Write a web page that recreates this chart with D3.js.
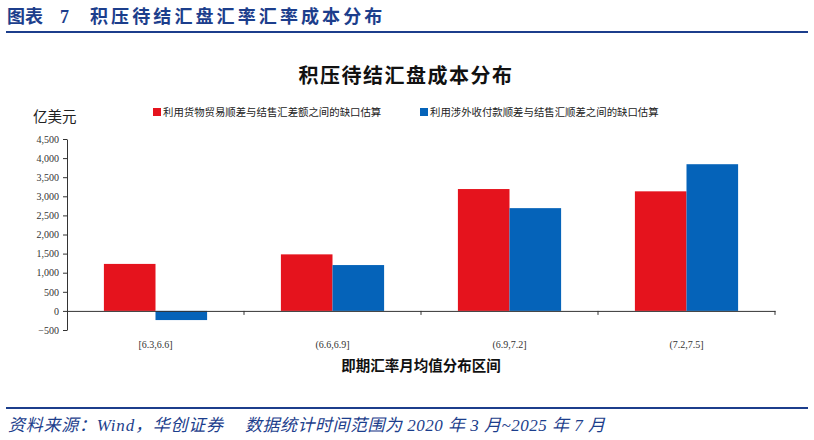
<!DOCTYPE html>
<html>
<head>
<meta charset="utf-8">
<script src="https://cdn.jsdelivr.net/npm/d3@7"></script>
<style>
  body { margin: 0; background: #fff; }
  svg { display: block; }
</style>
</head>
<body>
<script>
// 数据
const categories = ["[6.3,6.6]", "(6.6,6.9]", "(6.9,7.2]", "(7.2,7.5]"];
const tradeGap = [1230, 1480, 3190, 3130];   // 利用货物贸易顺差与结售汇差额之间的缺口估算
const flowGap = [-240, 1200, 2690, 3840];    // 利用涉外收付款顺差与结售汇顺差之间的缺口估算
const seriesNames = ["利用货物贸易顺差与结售汇差额之间的缺口估算", "利用涉外收付款顺差与结售汇顺差之间的缺口估算"];
const yTicks = [-500, 0, 500, 1000, 1500, 2000, 2500, 3000, 3500, 4000, 4500];

const colors = ["#E5131D", "#0563B9"];
const navy = "#1C3E8C";
const serif = "'Liberation Serif', 'Noto Sans CJK SC', serif";
const cjk = "'Noto Sans CJK SC', sans-serif";

var svg = d3.select("body")
    .append("svg")
    .attr("width", 814)
    .attr("height", 440)

// 页眉
const header = svg.append("text")
    .attr("y", 23)
    .attr("fill", navy)
    .style("font-family", cjk)
    .style("font-weight", "bold")
    .style("font-size", "18px")
header.append("tspan").attr("x", 7).text("图表")
header.append("tspan").attr("x", 60).style("font-family", serif).text("7")
header.append("tspan").attr("x", 90).style("letter-spacing", "3.1px").text("积压待结汇盘汇率汇率成本分布")

svg.append("line")
    .attr("x1", 6).attr("x2", 808)
    .attr("y1", 32).attr("y2", 32)
    .attr("stroke", navy)
    .attr("stroke-width", 2)

// 图表标题
svg.append("text")
    .attr("x", 406)
    .attr("y", 83)
    .attr("text-anchor", "middle")
    .style("font-family", cjk)
    .style("font-weight", "bold")
    .style("font-size", "20px")
    .style("letter-spacing", "1.5px")
    .attr("fill", "#111")
    .text("积压待结汇盘成本分布")

svg.append("text")
    .attr("x", 33)
    .attr("y", 122)
    .style("font-family", cjk)
    .style("font-size", "14.5px")
    .attr("fill", "#222")
    .text("亿美元")

// 图例
const legendX = [153, 420];
seriesNames.forEach((name, i) => {
    svg.append("rect")
        .attr("x", legendX[i]).attr("y", 108)
        .attr("width", 8).attr("height", 8)
        .attr("fill", colors[i])
    svg.append("text")
        .attr("x", legendX[i] + 10)
        .attr("y", 116)
        .style("font-family", cjk)
        .style("font-size", "10.4px")
        .attr("fill", "#222")
        .text(name)
})

// 坐标轴
const x = d3.scaleBand()
    .domain(categories)
    .range([67, 775])

const xInner = d3.scaleBand()
    .domain([0, 1])
    .range([0, x.bandwidth()])
    .paddingOuter(0.715)

const y = d3.scaleLinear()
    .domain([-500, 4500])
    .range([330, 139])

const plot = svg.append("g")

const groups = plot.selectAll(".grp")
    .data(categories)
    .enter()
    .append("g")
    .attr("transform", d => "translate(" + x(d) + ",0)")

groups.selectAll("rect")
    .data((d, i) => [tradeGap[i], flowGap[i]])
    .enter()
    .append("rect")
    .attr("x", (d, j) => xInner(j))
    .attr("width", xInner.bandwidth())
    .attr("y", d => y(Math.max(0, d)))
    .attr("height", d => Math.abs(y(d) - y(0)))
    .attr("fill", (d, j) => colors[j])

const yAxis = svg.append("g")
    .attr("transform", "translate(67,0)")
    .call(d3.axisLeft(y).tickValues(yTicks).tickFormat(d3.format(",")).tickSize(4).tickSizeOuter(0))
yAxis.select(".domain").attr("stroke", "#333")
yAxis.selectAll(".tick line").attr("stroke", "#333")
yAxis.selectAll("text")
    .attr("x", -8)
    .style("font-family", serif)
    .style("font-size", "10px")
    .attr("fill", "#333")

const xAxis = svg.append("g")
    .attr("transform", "translate(0," + y(0) + ")")
    .call(d3.axisBottom(x).tickSize(0).tickSizeOuter(0))
xAxis.select(".domain").attr("stroke", "#333")
xAxis.selectAll("text")
    .attr("y", 30)
    .style("font-family", serif)
    .style("font-size", "10px")
    .attr("fill", "#333")

// 分类分隔刻度
xAxis.selectAll(".sep")
    .data(categories)
    .enter()
    .append("line")
    .attr("x1", d => x(d) + x.bandwidth())
    .attr("x2", d => x(d) + x.bandwidth())
    .attr("y1", 0).attr("y2", 4)
    .attr("stroke", "#333")

svg.append("text")
    .attr("x", 421)
    .attr("y", 371)
    .attr("text-anchor", "middle")
    .style("font-family", cjk)
    .style("font-weight", "bold")
    .style("font-size", "14.5px")
    .attr("fill", "#111")
    .text("即期汇率月均值分布区间")

// 页脚
svg.append("line")
    .attr("x1", 6).attr("x2", 808)
    .attr("y1", 408).attr("y2", 408)
    .attr("stroke", navy)
    .attr("stroke-width", 2)

const footer = svg.append("text")
    .attr("y", 431)
    .attr("fill", navy)
    .style("font-family", serif)
    .style("font-style", "italic")
    .style("font-size", "17px")
footer.append("tspan")
    .attr("x", 8)
    .attr("textLength", 215)
    .attr("lengthAdjust", "spacing")
    .text("资料来源：Wind，华创证券")
footer.append("tspan")
    .attr("x", 245)
    .attr("textLength", 360)
    .attr("lengthAdjust", "spacing")
    .text("数据统计时间范围为 2020 年 3 月~2025 年 7 月")
</script>
</body>
</html>
